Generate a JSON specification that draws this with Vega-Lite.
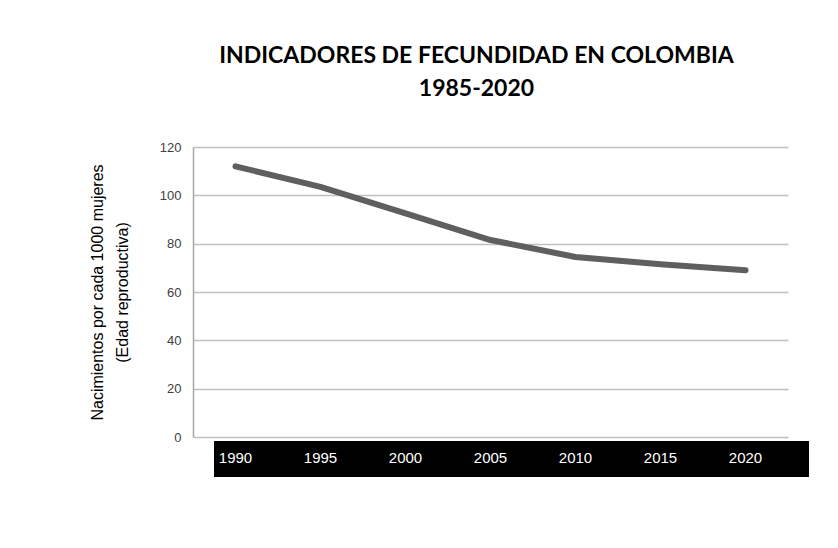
{
  "$schema": "https://vega.github.io/schema/vega-lite/v6.json",
  "width": 595,
  "height": 290,
  "autosize": {"type": "none"},
  "padding": {"left": 193, "top": 147, "right": 50, "bottom": 111},
  "background": "white",
  "title": {
    "text": ["INDICADORES DE FECUNDIDAD EN COLOMBIA", "1985-2020"],
    "font": "Lato",
    "fontSize": 23,
    "fontWeight": "bold",
    "color": "#000000",
    "anchor": "middle",
    "frame": "group",
    "lineHeight": 33,
    "offset": 40,
    "dx": -14
  },
  "config": {
    "view": {"stroke": null},
    "font": "Liberation Sans"
  },
  "data": {
    "values": [
      {"year": "1990", "value": 112},
      {"year": "1995", "value": 103.5},
      {"year": "2000", "value": 92.5},
      {"year": "2005", "value": 81.5},
      {"year": "2010", "value": 74.5},
      {"year": "2015", "value": 71.5},
      {"year": "2020", "value": 69}
    ]
  },
  "encoding": {
    "y": {
      "field": "value",
      "type": "quantitative",
      "scale": {"domain": [0, 120], "nice": false},
      "axis": {
        "values": [0, 20, 40, 60, 80, 100, 120],
        "title": ["Nacimientos por cada 1000 mujeres", "(Edad reproductiva)"],
        "titleFont": "Liberation Sans",
        "titleFontSize": 16,
        "titleFontWeight": "normal",
        "titleColor": "#000000",
        "titleLineHeight": 25,
        "titlePadding": 29,
        "domainColor": "#a6a6a6",
        "domainWidth": 1.5,
        "ticks": false,
        "labelPadding": 12,
        "labelFont": "Liberation Sans",
        "labelFontSize": 13,
        "labelColor": "#404040",
        "grid": true,
        "gridColor": "#c0c0c0",
        "gridWidth": 1.5
      }
    }
  },
  "layer": [
    {
      "mark": {"type": "point", "opacity": 0},
      "encoding": {
        "x": {
          "field": "year",
          "type": "ordinal",
          "scale": {"type": "point", "padding": 0.5},
          "axis": {
            "title": null,
            "orient": "bottom",
            "domain": true,
            "domainColor": "#000000",
            "domainWidth": 36,
            "domainCap": "butt",
            "ticks": false,
            "labels": false,
            "grid": false,
            "translate": 21,
            "offset": 1
          }
        }
      }
    },
    {
      "mark": {"type": "line", "color": "#5f5f5f", "strokeWidth": 6, "strokeCap": "round", "strokeJoin": "round"},
      "encoding": {
        "x": {
          "field": "year",
          "type": "ordinal",
          "scale": {"type": "point", "padding": 0.5},
          "axis": {
            "title": null,
            "orient": "bottom",
            "domain": false,
            "ticks": false,
            "grid": false,
            "labelColor": "#ffffff",
            "labelFont": "Liberation Sans",
            "labelFontSize": 15,
            "labelAngle": 0,
            "labelBaseline": "middle",
            "labelPadding": 0,
            "labelOffset": -21,
            "translate": 21,
            "offset": 0
          }
        }
      }
    }
  ],
  "resolve": {"axis": {"x": "independent"}}
}
